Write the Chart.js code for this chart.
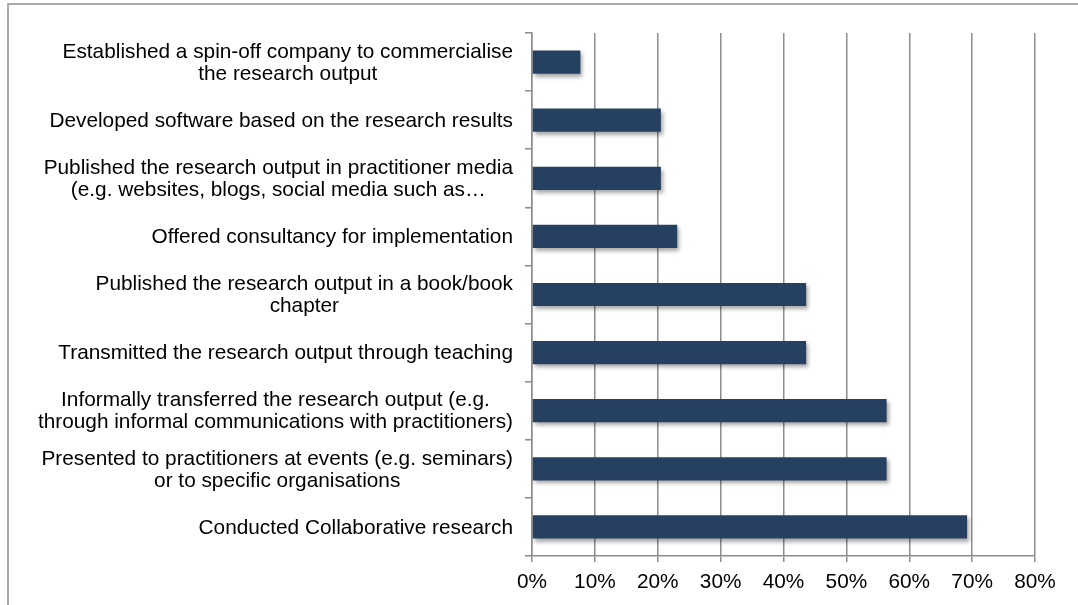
<!DOCTYPE html>
<html>
<head>
<meta charset="utf-8">
<script src="https://cdn.jsdelivr.net/npm/chart.js@4"></script>
<style>
    html, body { margin: 0; padding: 0; background: #fff; }
    #wrap { position: relative; width: 1078px; height: 605px; }
</style>
</head>
<body>
<div id="wrap"><canvas id="chart" width="1078" height="605"></canvas></div>
<script>
const categories = [
    ["Established a spin-off company to commercialise", "the research output"],
    ["Developed software based on the research results"],
    ["Published the research output in practitioner media", "(e.g. websites, blogs, social media such as…"],
    ["Offered consultancy for implementation"],
    ["Published the research output in a book/book", "chapter"],
    ["Transmitted the research output through teaching"],
    ["Informally transferred the research output (e.g.", "through informal communications with practitioners)"],
    ["Presented to practitioners at events (e.g. seminars)", "or to specific organisations"],
    ["Conducted Collaborative research"]
];
const shares = [7.7, 20.5, 20.5, 23.1, 43.6, 43.6, 56.4, 56.4, 69.2];
const xTicks = [0, 10, 20, 30, 40, 50, 60, 70, 80];

const FONT = "'Liberation Sans', Arial, Helvetica, sans-serif";
const FONT_SIZE = 20.8;
const GRID = '#8c8c8c';

// outer frame of the chart object
const framePlugin = {
    id: 'frame',
    beforeDraw(chart) {
        const ctx = chart.ctx;
        ctx.save();
        ctx.strokeStyle = '#8f8f8f';
        ctx.lineWidth = 1.5;
        ctx.strokeRect(8, 4, 1200, 800);
        ctx.restore();
    }
};

// soft drop shadow under the bars
const shadowPlugin = {
    id: 'barShadow',
    beforeDatasetsDraw(chart) {
        const ctx = chart.ctx;
        ctx.save();
        ctx.shadowColor = 'rgba(0,0,0,0.35)';
        ctx.shadowBlur = 4;
        ctx.shadowOffsetX = 2;
        ctx.shadowOffsetY = 3;
    },
    afterDatasetsDraw(chart) {
        chart.ctx.restore();
    }
};

// category labels: block right-aligned to the axis, lines centred inside the block
const labelPlugin = {
    id: 'catLabels',
    afterDraw(chart) {
        const ctx = chart.ctx;
        const y = chart.scales.y;
        const right = chart.chartArea.left - 19;
        const lh = 22;
        ctx.save();
        ctx.font = FONT_SIZE + 'px ' + FONT;
        ctx.fillStyle = '#000';
        ctx.textAlign = 'center';
        ctx.textBaseline = 'middle';
        categories.forEach((lines, i) => {
            const cy = y.getPixelForValue(i) + 1;
            const w = Math.max(...lines.map(l => ctx.measureText(l).width));
            const cx = right - w / 2;
            const top = cy - (lines.length - 1) * lh / 2;
            lines.forEach((l, k) => ctx.fillText(l, cx, top + k * lh));
        });
        ctx.restore();
    }
};

new Chart(document.getElementById('chart'), {
    type: 'bar',
    data: {
        labels: categories.map(c => c.join(' ')),
        datasets: [{
            data: shares,
            backgroundColor: '#264061',
            borderWidth: 0,
            barPercentage: 0.8,
            categoryPercentage: 0.5
        }]
    },
    options: {
        indexAxis: 'y',
        responsive: false,
        animation: false,
        events: [],
        layout: { padding: { left: 0, right: 43, top: 33, bottom: 0 } },
        plugins: {
            legend: { display: false },
            tooltip: { enabled: false }
        },
        scales: {
            x: {
                min: 0,
                max: 80,
                afterBuildTicks(s) { s.ticks = xTicks.map(v => ({ value: v })); },
                afterFit(s) { s.height = 49; },
                grid: {
                    color: GRID,
                    lineWidth: 1.5,
                    tickLength: 6,
                    drawTicks: true
                },
                border: { color: GRID, width: 1.5 },
                ticks: {
                    color: '#000',
                    padding: 10,
                    font: { family: FONT, size: FONT_SIZE, lineHeight: 1 },
                    callback: v => v + '%'
                }
            },
            y: {
                afterFit(s) { s.width = 532; },
                grid: {
                    drawOnChartArea: false,
                    drawTicks: true,
                    tickLength: 7,
                    color: GRID,
                    lineWidth: 1.5,
                    offset: true
                },
                border: { color: GRID, width: 1.5 },
                ticks: { display: false }
            }
        }
    },
    plugins: [framePlugin, shadowPlugin, labelPlugin]
});
</script>
</body>
</html>
